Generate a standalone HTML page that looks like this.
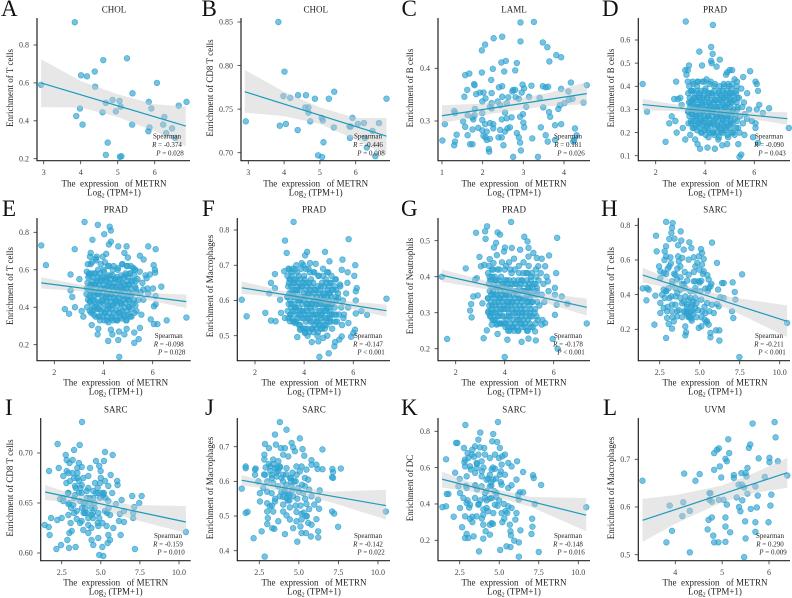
<!DOCTYPE html>
<html lang="en">
<head>
<meta charset="utf-8">
<title>Enrichment vs METRN expression</title>
<style>
html,body{margin:0;padding:0;background:#fff;}
svg{display:block;font-family:"Liberation Serif",serif;}
svg text{white-space:pre;}
</style>
</head>
<body>
<svg id="figure" width="792" height="598" viewBox="0 0 792 598" xmlns="http://www.w3.org/2000/svg"></svg>
<script>
// ---------- data: CHOL ----------
const cholX=[3.84,2.93,4.01,4.17,4.38,4.39,4.61,5.25,5.40,6.06,4.86,5.05,4.68,5.08,4.95,4.59,3.98,3.88,4.05,5.39,5.84,5.91,6.86,6.65,6.26,6.23,6.47,5.86,5.83,6.31,6.55,4.73,4.68,5.06,5.1];
const panelA_y=[.92,.59,.64,.635,.66,.58,.72,.73,.545,.60,.51,.505,.495,.475,.45,.445,.465,.425,.38,.38,.50,.465,.50,.48,.42,.38,.36,.365,.345,.335,.31,.285,.22,.21,.213];
const panelB_y=[.85,.736,.793,.763,.726,.766,.766,.762,.77,.733,.762,.74,.752,.737,.697,.752,.765,.731,.733,.729,.717,.74,.762,.734,.717,.734,.725,.73,.73,.706,.696,.736,.746,.695,.712];
// ---------- data: LAML ----------
const panelC_x=[2.93,3.26,2.48,2.27,2.93,3.48,3.59,2.06,1.98,3.81,3.93,2.46,2.57,2.84,3.64,2.25,2.53,2.80,1.98,1.57,1.67,2.21,1.79,1.80,4.17,4.56,2.98,3.2,3.48,3.55,3.61,3.93,4.11,1.62,2.4,2.48,2.75,2.73,2.80,2.96,3.02,1.93,2.02,1.84,2.22,1.55,1.99,2.07,2.22,2.18,2.37,2.48,2.63,2.81,2.89,3.14,3.4,4.21,4.12,4.01,3.9,4.48,3.86,3.49,3.07,2.59,2.43,2.22,1.81,1.3,1.32,1.63,1.8,1.75,1.77,1.99,2.55,2.47,2.59,2.71,2.92,2.99,3.63,3.66,1.07,1.52,1.57,1.36,1.99,2.18,2.06,2.26,2.26,1.89,1.75,3,3.02,3.43,3.78,3.93,4.27,2.67,2.61,2.43,2.55,1.99,2.1,1.01,1.63,1.32,1.3,1.69,1.75,2.02,2.07,2.1,2.18,2.39,2.47,2.51,2.84,2.89,2.92,2.94,3.22,3.55,3.6,3.78,4.31,4.25,4.23,2.15,2.16,2.75,3.36];
const panelC_y=[.487,.488,.46,.457,.451,.449,.44,.445,.434,.425,.421,.411,.414,.41,.413,.399,.394,.396,.392,.387,.39,.378,.37,.368,.373,.368,.369,.367,.366,.364,.365,.361,.356,.359,.364,.366,.359,.356,.359,.354,.362,.354,.354,.351,.353,.346,.337,.343,.334,.327,.337,.346,.345,.345,.342,.346,.344,.342,.34,.334,.33,.335,.323,.326,.327,.334,.33,.324,.323,.319,.315,.311,.311,.307,.303,.315,.316,.303,.305,.307,.308,.313,.317,.308,.294,.299,.289,.274,.302,.296,.294,.294,.286,.287,.284,.297,.288,.288,.292,.294,.286,.288,.286,.283,.28,.282,.28,.263,.273,.261,.254,.256,.256,.272,.269,.264,.266,.269,.269,.254,.277,.269,.259,.244,.267,.273,.261,.264,.273,.264,.261,.247,.242,.232,.232];
// ---------- data: PRAD, dense core shares METRN values ----------
const pradCoreX=[3.32,3.41,3.44,3.48,3.52,3.55,3.6,3.63,3.68,3.71,3.74,3.78,3.82,3.84,3.88,3.93,3.97,4.0,4.03,4.05,4.08,4.12,4.14,4.18,4.21,4.24,4.28,4.31,4.34,4.38,4.41,4.44,4.48,4.51,4.54,4.58,4.61,4.64,4.68,4.72,4.77,4.81,4.84,4.88,4.91,4.94,4.98,5.01,5.04,5.08,5.11,5.14,5.18,5.22,5.27,5.31,5.34,5.38,5.42,5.47,5.51,5.54,5.58,5.62,5.71,5.79,
3.33,3.37,3.31,3.39,3.35,3.38,3.32,3.36,
3.5,3.54,3.48,3.56,3.52,3.55,3.49,3.53,
3.68,3.72,3.66,3.74,3.7,3.73,3.67,3.71,
3.86,3.9,3.84,3.92,3.88,3.91,3.85,3.89,
4.03,4.07,4.01,4.09,4.05,4.08,4.02,4.06,
4.2,4.24,4.18,4.26,4.22,4.25,4.19,4.23,
4.38,4.42,4.36,4.44,4.4,4.43,4.37,4.41,
4.56,4.6,4.54,4.62,4.58,4.61,4.55,4.59,
4.73,4.77,4.71,4.79,4.75,4.78,4.72,4.76,
4.91,4.95,4.89,4.97,4.93,4.96,4.9,4.94,
5.08,5.12,5.06,5.14,5.1,5.13,5.07,5.11,
5.26,5.3,5.24,5.32,5.28,5.31,5.25,5.29,
3.44,3.46,3.43,3.45,3.47,3.42,
3.61,3.63,3.6,3.62,3.64,3.59,
3.79,3.81,3.78,3.8,3.82,3.77,
3.97,3.99,3.96,3.98,4.0,3.95,
4.14,4.16,4.13,4.15,4.17,4.12,
4.31,4.33,4.3,4.32,4.34,4.29,
4.49,4.51,4.48,4.5,4.52,4.47,
4.67,4.69,4.66,4.68,4.7,4.65,
4.84,4.86,4.83,4.85,4.87,4.82,
5.02,5.04,5.01,5.03,5.05,5.0];
const panelD_coreY=[.29,.33,.25,.38,.3,.22,.35,.27,.4,.31,.24,.36,.28,.2,.33,.25,.42,.38,.3,.22,.35,.27,.18,.41,.32,.24,.37,.29,.2,.4,.34,.26,.31,.23,.17,.38,.28,.2,.35,.25,.4,.31,.22,.36,.27,.18,.4,.33,.24,.37,.29,.2,.34,.26,.38,.3,.22,.35,.27,.39,.31,.24,.33,.28,.37,.3,
.24,.27,.29,.31,.33,.35,.37,.4,
.22,.25,.28,.3,.33,.35,.38,.41,
.21,.24,.27,.3,.32,.35,.38,.42,
.2,.23,.26,.29,.32,.35,.38,.42,
.19,.23,.26,.29,.32,.35,.39,.43,
.2,.23,.26,.29,.31,.34,.37,.42,
.19,.22,.25,.28,.31,.34,.38,.41,
.18,.22,.25,.28,.31,.34,.37,.4,
.2,.23,.26,.29,.32,.35,.38,.41,
.19,.23,.26,.29,.32,.35,.38,.41,
.2,.24,.27,.3,.33,.36,.39,.41,
.22,.25,.28,.31,.33,.35,.37,.4,
.24,.28,.3,.32,.34,.38,
.23,.26,.29,.31,.34,.37,
.22,.25,.28,.31,.34,.37,
.21,.24,.27,.3,.33,.36,
.21,.24,.27,.3,.33,.37,
.2,.24,.27,.3,.33,.36,
.2,.23,.27,.3,.33,.36,
.21,.24,.27,.3,.33,.36,
.21,.24,.27,.31,.34,.37,
.22,.25,.28,.31,.34,.37];
const panelD_x=[1.47,1.65,3.22,4.32,4.25,4.31,3.77,4.6,4.25,4.27,3.88,4.47,3.35,3.3,3.25,3.2,5.83,5.55,5.1,5.0,4.9,4.85,2.83,3.3,3.5,3.7,6.05,6.1,6.15,5.2,5.3,2.75,2.9,3.0,3.05,2.4,2.55,2.65,2.8,2.85,3.1,3.2,3.4,3.6,3.7,3.8,4.1,4.4,4.7,4.9,5.35,5.4,5.47,5.95,6.15,6.6,6.35,7.4,6.1,6.2,5.9,6.05,6.05,5.7,5.6,5.4,5.2];
const panelD_y=[.41,.29,.68,.665,.57,.54,.55,.515,.51,.5,.49,.485,.49,.47,.45,.47,.465,.44,.47,.47,.46,.45,.42,.42,.42,.42,.42,.41,.38,.43,.42,.345,.345,.35,.32,.16,.24,.27,.25,.2,.22,.17,.19,.17,.15,.13,.135,.13,.145,.15,.15,.095,.105,.18,.155,.305,.285,.22,.3,.32,.25,.22,.24,.26,.19,.2,.19];
const panelE_coreY=[.5,.58,.43,.63,.52,.38,.58,.46,.66,.53,.4,.6,.48,.35,.55,.43,.67,.6,.5,.37,.56,.45,.33,.62,.52,.4,.57,.47,.35,.6,.51,.42,.55,.44,.33,.6,.48,.37,.54,.42,.63,.5,.36,.57,.45,.33,.62,.52,.4,.58,.46,.35,.54,.42,.6,.5,.38,.55,.44,.59,.48,.36,.53,.44,.57,.5,
.4,.44,.47,.5,.53,.56,.59,.63,
.37,.41,.45,.48,.51,.54,.58,.64,
.35,.39,.43,.47,.5,.54,.58,.65,
.33,.38,.42,.46,.5,.54,.58,.63,
.33,.37,.42,.46,.5,.54,.59,.64,
.32,.37,.41,.45,.49,.53,.57,.62,
.33,.37,.41,.45,.49,.53,.57,.62,
.33,.37,.41,.45,.49,.52,.56,.61,
.34,.38,.42,.46,.49,.53,.57,.63,
.33,.38,.42,.46,.5,.54,.58,.62,
.35,.39,.43,.47,.5,.54,.58,.62,
.37,.41,.44,.48,.51,.54,.57,.6,
.38,.43,.46,.49,.52,.57,
.36,.4,.44,.48,.52,.56,
.35,.39,.43,.47,.52,.56,
.35,.39,.44,.48,.52,.56,
.35,.39,.43,.47,.51,.55,
.34,.39,.43,.47,.51,.55,
.34,.38,.43,.47,.51,.55,
.35,.39,.43,.47,.51,.55,
.35,.4,.44,.48,.52,.56,
.36,.4,.44,.48,.52,.56];
const panelE_x=[1.47,1.66,3.23,3.77,4.25,4.3,4.03,3.55,4.3,4.22,4.6,4.94,5.82,6.12,2.83,3.48,4.11,4.85,5.48,5.63,3.45,3.72,4.99,6.04,6.09,6.1,2.66,3.02,6.35,6.01,6.12,2.66,2.73,2.84,2.43,2.6,3.11,3.18,3.52,3.79,3.76,4.3,4.19,4.6,4.36,4.63,4.85,5.25,5.25,5.43,4.64,5.48,5.92,6.05,6.19,6.57,7.37,6.05,6.12,5.82,5.62,4.94,5.89,5.75,5.21];
const panelE_y=[.73,.625,.855,.84,.83,.81,.79,.76,.75,.735,.725,.725,.725,.71,.71,.69,.685,.69,.675,.655,.67,.67,.665,.625,.6,.585,.575,.55,.51,.5,.46,.49,.455,.4,.39,.365,.38,.35,.305,.285,.255,.28,.22,.225,.255,.27,.255,.265,.21,.23,.135,.29,.335,.31,.31,.33,.345,.405,.415,.475,.495,.285,.575,.555,.61];
const panelF_coreY=[.61,.66,.56,.68,.62,.54,.65,.58,.7,.63,.55,.67,.6,.53,.64,.57,.7,.67,.61,.52,.65,.58,.5,.69,.62,.55,.66,.59,.52,.68,.63,.56,.6,.54,.5,.67,.59,.53,.64,.56,.69,.61,.52,.66,.58,.5,.68,.62,.55,.65,.59,.52,.63,.56,.66,.6,.54,.62,.56,.64,.58,.53,.6,.56,.62,.58,
.57,.59,.61,.62,.64,.65,.67,.69,
.55,.57,.59,.61,.63,.65,.67,.69,
.54,.56,.58,.6,.62,.64,.66,.68,
.52,.55,.57,.59,.61,.64,.66,.69,
.51,.54,.56,.59,.61,.63,.66,.69,
.51,.54,.56,.58,.6,.63,.65,.68,
.51,.53,.56,.58,.6,.62,.65,.68,
.51,.53,.55,.57,.6,.62,.64,.67,
.52,.54,.56,.58,.6,.62,.65,.67,
.53,.55,.57,.59,.61,.63,.65,.68,
.54,.56,.57,.59,.61,.63,.65,.67,
.54,.56,.58,.6,.61,.63,.64,.66,
.56,.58,.6,.62,.64,.66,
.54,.57,.59,.61,.63,.66,
.53,.56,.58,.6,.63,.65,
.52,.55,.57,.6,.62,.65,
.52,.55,.57,.59,.62,.64,
.52,.54,.57,.59,.61,.64,
.52,.54,.56,.59,.61,.63,
.52,.55,.57,.59,.61,.63,
.53,.55,.57,.59,.62,.64,
.54,.56,.58,.6,.62,.64];
const panelF_x=[1.46,1.66,3.57,3.22,3.29,5.81,4.12,4.04,4.85,5.56,5.03,6.08,6.04,5.77,5.53,5.76,6.14,6.1,6.1,7.35,6.56,6.33,6.1,2.81,2.65,3.19,2.81,2.58,3.02,2.42,2.65,2.84,3.06,3.22,3.42,3.72,3.83,4.03,4.31,4.58,4.78,4.62,5,5.23,5.26,5.43,5.53,5.91,6,6.07,5.8,5.6,3.63,3.4,3.9,4.24,4.47,3.36,3.63,5.46,5.39];
const panelF_y=[.602,.555,.823,.77,.735,.774,.738,.728,.738,.716,.711,.7,.67,.68,.687,.65,.635,.626,.6,.605,.559,.57,.563,.675,.65,.683,.635,.62,.602,.565,.543,.541,.565,.55,.541,.496,.517,.508,.482,.484,.494,.44,.45,.47,.482,.489,.498,.497,.508,.517,.536,.55,.688,.688,.706,.706,.704,.55,.536,.645,.607];
const panelG_coreY=[.34,.39,.3,.42,.35,.28,.39,.32,.46,.37,.29,.42,.34,.27,.38,.31,.47,.42,.35,.27,.39,.32,.25,.44,.37,.29,.41,.33,.26,.45,.38,.3,.36,.28,.25,.43,.34,.27,.39,.3,.44,.36,.26,.41,.33,.25,.43,.37,.29,.4,.33,.26,.38,.3,.42,.36,.28,.39,.32,.41,.35,.28,.38,.33,.4,.36,
.3,.32,.34,.36,.38,.4,.41,.43,
.28,.3,.32,.34,.36,.38,.4,.42,
.27,.29,.31,.33,.35,.37,.39,.42,
.27,.29,.31,.33,.35,.37,.4,.44,
.26,.28,.31,.33,.35,.37,.39,.43,
.25,.27,.3,.32,.34,.36,.39,.42,
.25,.27,.3,.32,.34,.36,.39,.42,
.25,.28,.3,.32,.34,.37,.39,.41,
.26,.28,.3,.32,.34,.36,.39,.41,
.25,.28,.3,.33,.35,.37,.39,.41,
.26,.29,.31,.33,.35,.37,.39,.41,
.27,.29,.31,.33,.35,.37,.38,.4,
.29,.31,.33,.35,.37,.39,
.28,.3,.33,.35,.37,.4,
.27,.3,.32,.34,.36,.39,
.27,.29,.32,.34,.36,.38,
.26,.29,.31,.33,.35,.38,
.26,.28,.31,.33,.35,.38,
.26,.29,.31,.33,.35,.38,
.27,.29,.31,.33,.36,.38,
.27,.29,.31,.34,.36,.38,
.27,.3,.32,.34,.36,.38];
const panelG_x=[1.44,1.65,4,2.83,3.28,3.2,3.22,4.26,3.71,3.81,4.8,4.93,6.14,3.65,3.56,4.01,4.29,4.97,4.63,5.17,4.97,5.81,5.51,5.31,2.97,3.39,3.17,3.03,2.41,3.54,5.37,5.65,6.1,2.79,2.86,5.76,6.05,6.05,6.33,6.56,7.35,2.72,2.9,2.63,2.59,2.65,3.09,3.33,3.4,3.27,3.14,3.71,4.11,4.69,4.97,5.27,5.24,5.96,6.16,6.05,6.12,5.51,5.65,3.47,3.67];
const panelG_y=[.4,.227,.177,.522,.54,.526,.505,.552,.523,.517,.511,.498,.508,.494,.481,.481,.48,.48,.475,.466,.456,.459,.45,.452,.455,.449,.433,.429,.423,.438,.429,.429,.41,.392,.396,.387,.369,.35,.345,.325,.27,.345,.348,.324,.306,.287,.326,.304,.29,.251,.229,.241,.225,.219,.228,.223,.248,.227,.2,.294,.322,.267,.271,.267,.267];
// ---------- data: SARC ----------
const sarcCoreX=[2.8,3.0,3.2,3.4,3.6,3.8,4.0,4.2,4.4,4.6,4.8,5.0,5.2,5.4,2.9,3.1,3.3,3.5,3.7,3.9,4.1,4.3,4.5,4.7,4.9,5.1,5.3,5.5,3.0,3.3,3.6,3.9,4.2,4.5,4.8,5.1,4.0,4.3,4.6,4.4];
const panelH_coreY=[.6,.55,.58,.52,.55,.5,.46,.33,.3,.29,.35,.47,.52,.24,.42,.38,.46,.39,.31,.35,.3,.27,.33,.42,.31,.27,.33,.42,.33,.27,.41,.27,.29,.25,.27,.48,.36,.37,.36,.27];
const panelI_coreY=[.67,.69,.68,.665,.66,.645,.65,.635,.645,.65,.665,.675,.66,.64,.66,.645,.655,.675,.665,.65,.64,.655,.635,.66,.635,.63,.655,.645,.65,.64,.69,.64,.665,.64,.63,.66,.645,.65,.645,.625];
const panelJ_coreY=[.62,.6,.63,.65,.625,.64,.6,.59,.56,.625,.6,.57,.59,.55,.64,.65,.61,.55,.63,.61,.57,.545,.61,.6,.55,.53,.51,.5,.57,.53,.64,.57,.62,.6,.53,.47,.555,.565,.575,.545];
const panelK_coreY=[.63,.68,.59,.66,.48,.42,.6,.47,.43,.6,.54,.42,.3,.36,.5,.38,.33,.5,.4,.58,.46,.36,.52,.47,.39,.58,.4,.35,.42,.3,.62,.32,.42,.5,.44,.52,.37,.54,.29,.56];
const panelH_x=[1.44,1.71,1.81,1.67,2.17,2.27,2.31,2.9,3.31,3.27,3.23,3.1,3.42,3.81,3.85,3.65,4,4.35,4.48,5.77,5.08,2.9,2.81,2.9,3.17,3.65,3.9,4.31,4.63,4.94,5.25,5.15,6.08,2.46,2.54,3.1,3.69,3.79,4.85,5.15,4.73,4.98,4.63,4.06,7.65,5.48,2.9,2.75,2.54,3.48,3.58,4.21,4.94,4.63,5.56,5.73,6.4,6.5,7.06,7.19,7.23,7.02,7.1,6.29,6.5,6.15,5.67,5.56,3.06,2.9,2.75,2.23,2.65,2.81,3.23,3.48,3.79,4.1,4.42,4.73,5.04,5.35,3.79,4.1,4.42,4.73,5.1,5.46,5.77,6.08,6.19,2.54,2.75,2.54,2.96,3.27,3.48,3.27,3.58,2.96,3.06,3.27,3.38,3.58,2.9,4.1,4.15,4.1,4.21,4.52,4.21,4.52,4.31,4.48,4.73,5.15,5.35,4.94,5.1,5.31,5.46,5.56,5.67,5.67,6.02,6.23,6.23,7.48,10.46,5.88,5.6,4,4.73,4.31,5.25,3.27,3.9];
const panelH_y=[.436,.438,.429,.367,.227,.74,.65,.82,.813,.785,.756,.721,.723,.765,.712,.685,.66,.702,.669,.7,.663,.679,.65,.621,.615,.621,.612,.602,.615,.621,.606,.64,.583,.563,.535,.563,.592,.563,.583,.573,.563,.544,.531,.531,.517,.512,.519,.525,.496,.515,.487,.481,.477,.477,.487,.462,.467,.467,.471,.415,.371,.304,.265,.385,.381,.429,.448,.438,.438,.419,.429,.394,.4,.381,.39,.438,.429,.438,.419,.438,.419,.435,.381,.39,.381,.381,.371,.352,.342,.346,.333,.352,.323,.294,.304,.342,.342,.304,.304,.265,.231,.204,.246,.275,.15,.217,.183,.165,.342,.342,.304,.304,.275,.262,.323,.304,.294,.208,.217,.256,.246,.227,.179,.154,.194,.194,.135,.04,.237,.294,.304,.304,.477,.515,.535,.477,.462];
const panelI_x=[1.41,1.67,1.73,1.69,1.82,2.24,2.31,2.16,2.46,2.22,2.5,2.6,2.39,2.76,2.82,3.29,3.2,3.65,3.8,2.82,2.93,2.6,3.03,3.29,3.5,3.78,3.5,3.88,3.61,3.35,3.78,4.31,4.69,5.2,5.27,5.76,4.9,4.99,5.63,4.2,4.63,4.95,5.27,5.48,6.05,6.07,5.73,2.93,3.35,3.78,4.1,4.52,4.84,5.16,2.6,2.93,3.24,3.67,4.1,4.52,4.95,5.48,5.97,6.33,7.01,7.61,7.46,7.14,7.07,7.07,6.48,6.22,6.16,6.48,3.46,3.99,4.41,4.84,5.27,5.59,2.93,3.46,3.07,3.78,4.2,4.84,5.37,5.8,2.99,3.14,3.88,4.2,4.41,4.52,4.84,5.48,5.59,6.27,2.86,2.97,3.39,5.1,5.44,4.9,5.16,7.18,10.44,3.67];
const panelI_y=[.628,.626,.618,.682,.635,.709,.685,.604,.608,.633,.635,.655,.654,.698,.693,.703,.693,.708,.731,.682,.68,.677,.672,.675,.685,.686,.68,.675,.672,.667,.668,.685,.692,.692,.701,.698,.687,.682,.678,.677,.67,.67,.672,.667,.672,.668,.66,.66,.658,.66,.662,.662,.66,.658,.652,.649,.648,.652,.655,.655,.655,.652,.649,.653,.657,.657,.65,.646,.64,.635,.642,.639,.632,.631,.642,.64,.638,.64,.642,.638,.638,.634,.63,.632,.628,.627,.627,.625,.62,.622,.623,.62,.613,.608,.615,.618,.613,.618,.613,.605,.606,.606,.61,.598,.597,.604,.621,.63];
const panelJ_x=[1.39,1.64,1.64,1.64,1.76,2.14,2.23,2.27,2.44,2.23,2.65,2.84,2.86,2.82,3.11,3.49,3.8,4.22,3.55,3.87,4.12,4.54,5.06,4.64,4.75,5.23,5.34,6.49,5.8,5.8,6.11,6.18,6.49,7.12,7.16,7.65,7.1,7.16,2.82,3.38,3.7,4.01,4.33,3.17,3.49,3.8,4.22,4.85,5.17,5.48,2.86,3.28,3.59,4.01,4.43,4.85,5.06,5.38,5.59,2.75,3.38,3.7,4.12,4.54,4.96,5.38,5.65,6.32,2.54,3.28,3.8,4.22,4.64,5.27,5.8,6.22,2.54,3,3.17,3.49,4.01,4.43,5.48,5.97,6.28,5.65,3,3.38,4.01,4.85,5.17,5.48,7.1,7.23,10.5,3.04,3,3.7,4.22,4.43,4.85,5.17,5.59,5.8,6.11,3.32,3.45,4.12,4.64,5.17,5.44,5.76,6.22,6.22,4.9,7.48];
const panelJ_y=[.579,.643,.638,.509,.512,.436,.634,.637,.6,.619,.456,.383,.708,.677,.696,.735,.771,.749,.706,.696,.696,.711,.724,.698,.687,.693,.674,.692,.661,.648,.648,.636,.635,.636,.627,.637,.612,.61,.663,.663,.658,.677,.672,.643,.638,.643,.638,.643,.643,.634,.619,.619,.614,.619,.61,.619,.629,.61,.605,.581,.595,.586,.581,.586,.581,.586,.576,.574,.566,.566,.557,.552,.557,.566,.557,.547,.542,.537,.528,.542,.533,.525,.535,.533,.521,.52,.513,.513,.513,.512,.506,.499,.513,.507,.513,.494,.477,.485,.502,.49,.485,.49,.48,.475,.491,.465,.463,.448,.465,.451,.451,.441,.456,.438,.426,.469];
const panelK_x=[1.41,1.64,1.64,1.68,1.79,2.12,2.21,2.27,2.35,2.77,2.86,2.5,2.42,2.52,2.65,2.94,2.84,3.05,3.38,3.8,4.62,4.92,3.68,4.56,4.87,5.04,3.47,3.78,3.3,4.05,3.26,3.68,4.1,4.73,5.36,5.19,2.84,3.05,3.57,3.89,4.41,4.98,5.57,5.78,6.13,2.84,3.15,3.57,4.52,4.73,5.15,6.51,2.94,3.47,3.89,4.2,4.62,5.04,5.36,6.09,7.14,7.18,7.65,5.78,5.57,2.94,3.47,3.89,4.41,5.15,4.83,6.3,6.51,6.2,6.24,7.25,10.5,2.73,2.94,3.15,3.47,3.68,4.1,4.52,4.2,4.73,5.57,5.78,2.52,2.84,3.15,3.57,3.99,4.62,5.15,6.09,5.32,4.52,3.99,4.41,5.67,6.02,7.08,7.1,7.04,6.34,5.71,5.74,4.14,4.41,3.99,5.95,6.24,5.46,5.71,5.06,3.72,6.24,7.5];
const panelK_y=[.383,.387,.646,.455,.455,.33,.572,.736,.736,.708,.835,.538,.497,.46,.272,.235,.213,.213,.222,.793,.785,.851,.754,.745,.741,.708,.717,.712,.699,.708,.672,.672,.672,.672,.672,.662,.644,.653,.626,.635,.653,.653,.626,.607,.635,.607,.607,.598,.589,.594,.617,.576,.552,.571,.552,.534,.534,.561,.561,.534,.558,.543,.505,.503,.488,.488,.503,.497,.497,.506,.46,.464,.464,.451,.424,.4,.382,.433,.405,.396,.433,.396,.433,.433,.378,.396,.387,.378,.378,.332,.319,.332,.341,.35,.35,.35,.319,.295,.286,.286,.286,.314,.319,.275,.235,.255,.25,.227,.25,.231,.209,.198,.189,.167,.163,.147,.139,.11,.136];
// ---------- data: UVM ----------
const panelL_x=[3.3,3.88,3.93,3.81,4.31,4.15,4.17,4.19,4.31,4.43,4.52,4.69,4.71,4.73,4.75,4.73,4.78,4.78,4.81,4.83,4.83,4.89,4.93,4.83,4.92,4.93,4.95,4.98,5.03,5.07,5.07,5.07,5.1,5.07,5.1,5.15,5.13,5.17,5.25,5.25,5.31,5.36,5.39,5.35,5.41,5.43,5.42,5.47,5.47,5.5,5.52,5.54,5.49,5.5,5.54,5.57,5.6,5.61,5.65,5.71,5.71,5.71,5.74,5.76,5.78,6.01,5.91,5.99,6.03,6.05,6.01,6.12,6.14,6.19,6.39];
const panelL_y=[.655,.603,.55,.526,.505,.581,.61,.67,.592,.655,.669,.553,.573,.629,.629,.615,.611,.578,.54,.678,.713,.72,.723,.526,.526,.615,.685,.662,.615,.578,.559,.527,.605,.701,.696,.713,.742,.547,.661,.667,.62,.6,.591,.647,.671,.614,.647,.641,.495,.671,.664,.682,.57,.534,.628,.724,.731,.596,.775,.643,.568,.548,.599,.624,.702,.694,.663,.568,.603,.626,.703,.778,.746,.696,.666];
// ---------- fitted lines (endpoints) ----------
const panelA_fitX=[2.93,6.84],panelA_fitY=[.60,.372];
const panelB_fitX=[2.9,6.86],panelB_fitY=[.77,.719];
const panelC_fitX=[1,4.56],panelC_fitY=[.31,.352];
const panelD_fitX=[1.47,7.34],panelD_fitY=[.321,.26];
const panelE_fitX=[1.47,7.37],panelE_fitY=[.53,.43];
const panelF_fitX=[1.46,7.35],panelF_fitY=[.636,.571];
const panelG_fitX=[1.44,7.35],panelG_fitY=[.404,.315];
const panelH_fitX=[1.44,10.46],panelH_fitY=[.513,.246];
const panelI_fitX=[1.44,10.44],panelI_fitY=[.661,.631];
const panelJ_fitX=[1.39,10.5],panelJ_fitY=[.603,.53];
const panelK_fitX=[1.39,10.5],panelK_fitY=[.536,.338];
const panelL_fitX=[3.3,6.39],panelL_fitY=[.572,.672];
// ---------- confidence bands ----------
const panelA_ciX=[2.93,4,5,6,6.84],panelA_ciHi=[.725,.61,.54,.487,.475],panelA_ciLo=[.472,.47,.42,.345,.265];
const panelB_ciX=[2.9,4,5,6,6.86],panelB_ciHi=[.795,.77,.752,.74,.74],panelB_ciLo=[.746,.742,.733,.715,.697];
const panelC_ciX=[1,2,2.75,3.6,4.56],panelC_ciHi=[.33,.333,.341,.353,.374],panelC_ciLo=[.296,.311,.32,.328,.332];
const panelD_ciX=[1.47,3,4.2,5.5,7.34],panelD_ciHi=[.345,.318,.302,.292,.288],panelD_ciLo=[.297,.292,.284,.266,.233];
const panelE_ciX=[1.47,3,4.2,5.5,7.37],panelE_ciHi=[.56,.522,.497,.478,.467],panelE_ciLo=[.5,.486,.471,.446,.395];
const panelF_ciX=[1.46,3,4.2,5.5,7.35],panelF_ciHi=[.654,.629,.612,.6,.588],panelF_ciLo=[.619,.609,.6,.582,.554];
const panelG_ciX=[1.44,3,4.2,5.5,7.35],panelG_ciHi=[.42,.393,.371,.355,.339],panelG_ciLo=[.386,.368,.353,.331,.292];
const panelH_ciX=[1.44,3,4.5,7,10.46],panelH_ciHi=[.555,.495,.44,.385,.338],panelH_ciLo=[.47,.44,.404,.31,.155];
const panelI_ciX=[1.44,3,4.5,7,10.44],panelI_ciHi=[.668,.66,.655,.648,.647],panelI_ciLo=[.653,.651,.646,.634,.62];
const panelJ_ciX=[1.39,3,4.5,7,10.5],panelJ_ciHi=[.618,.6,.587,.57,.576],panelJ_ciLo=[.588,.579,.568,.54,.49];
const panelK_ciX=[1.39,3,4.5,7,10.5],panelK_ciHi=[.577,.525,.487,.438,.433],panelK_ciLo=[.49,.472,.446,.384,.25];
const panelL_ciX=[3.3,4,5,5.7,6.39],panelL_ciHi=[.617,.625,.645,.672,.703],panelL_ciLo=[.527,.565,.61,.63,.64];
// ---------- tick labels ----------
const ticksX123=["3","4","5","6"];
const ticksXLaml=["1","2","3","4"];
const ticksXPrad=["2","4","6"];
const ticksXSarc=["2.5","5.0","7.5","10.0"];
const ticksXUvm=["4","5","6"];
const ticksYA=["0.2","0.4","0.6","0.8"];
const ticksYB=["0.70","0.75","0.80","0.85"];
const ticksYC=["0.3","0.4"];
const ticksYD=["0.1","0.2","0.3","0.4","0.5","0.6"];
const ticksYF=["0.5","0.6","0.7","0.8"];
const ticksYG=["0.2","0.3","0.4","0.5"];
const ticksYI=["0.60","0.65","0.70"];
const ticksYJ=["0.4","0.5","0.6","0.7"];
const ticksYL=["0.5","0.6","0.7"];

// ---------- panels ----------
const panels=[
{id:"A",cancer:"CHOL",ylabel:"Enrichment of T cells",r:"-0.374",p:"= 0.028",x:cholX,y:panelA_y,fx:panelA_fitX,fy:panelA_fitY,cx:panelA_ciX,hi:panelA_ciHi,lo:panelA_ciLo,tx:ticksX123,ty:ticksYA},
{id:"B",cancer:"CHOL",ylabel:"Enrichment of CD8 T cells",r:"-0.446",p:"= 0.008",x:cholX,y:panelB_y,fx:panelB_fitX,fy:panelB_fitY,cx:panelB_ciX,hi:panelB_ciHi,lo:panelB_ciLo,tx:ticksX123,ty:ticksYB},
{id:"C",cancer:"LAML",ylabel:"Enrichment of B cells",r:"0.181",p:"= 0.026",x:panelC_x,y:panelC_y,fx:panelC_fitX,fy:panelC_fitY,cx:panelC_ciX,hi:panelC_ciHi,lo:panelC_ciLo,tx:ticksXLaml,ty:ticksYC},
{id:"D",cancer:"PRAD",ylabel:"Enrichment of B cells",r:"-0.090",p:"= 0.043",x:pradCoreX.concat(panelD_x),y:panelD_coreY.concat(panelD_y),fx:panelD_fitX,fy:panelD_fitY,cx:panelD_ciX,hi:panelD_ciHi,lo:panelD_ciLo,tx:ticksXPrad,ty:ticksYD},
{id:"E",cancer:"PRAD",ylabel:"Enrichment of T cells",r:"-0.098",p:"= 0.028",x:pradCoreX.concat(panelE_x),y:panelE_coreY.concat(panelE_y),fx:panelE_fitX,fy:panelE_fitY,cx:panelE_ciX,hi:panelE_ciHi,lo:panelE_ciLo,tx:ticksXPrad,ty:ticksYA},
{id:"F",cancer:"PRAD",ylabel:"Enrichment of Macrophages",r:"-0.147",p:"< 0.001",x:pradCoreX.concat(panelF_x),y:panelF_coreY.concat(panelF_y),fx:panelF_fitX,fy:panelF_fitY,cx:panelF_ciX,hi:panelF_ciHi,lo:panelF_ciLo,tx:ticksXPrad,ty:ticksYF},
{id:"G",cancer:"PRAD",ylabel:"Enrichment of Neutrophils",r:"-0.178",p:"< 0.001",x:pradCoreX.concat(panelG_x),y:panelG_coreY.concat(panelG_y),fx:panelG_fitX,fy:panelG_fitY,cx:panelG_ciX,hi:panelG_ciHi,lo:panelG_ciLo,tx:ticksXPrad,ty:ticksYG},
{id:"H",cancer:"SARC",ylabel:"Enrichment of T cells",r:"-0.211",p:"< 0.001",x:sarcCoreX.concat(panelH_x),y:panelH_coreY.concat(panelH_y),fx:panelH_fitX,fy:panelH_fitY,cx:panelH_ciX,hi:panelH_ciHi,lo:panelH_ciLo,tx:ticksXSarc,ty:ticksYA},
{id:"I",cancer:"SARC",ylabel:"Enrichment of CD8 T cells",r:"-0.159",p:"= 0.010",x:sarcCoreX.concat(panelI_x),y:panelI_coreY.concat(panelI_y),fx:panelI_fitX,fy:panelI_fitY,cx:panelI_ciX,hi:panelI_ciHi,lo:panelI_ciLo,tx:ticksXSarc,ty:ticksYI},
{id:"J",cancer:"SARC",ylabel:"Enrichment of Macrophages",r:"-0.142",p:"= 0.022",x:sarcCoreX.concat(panelJ_x),y:panelJ_coreY.concat(panelJ_y),fx:panelJ_fitX,fy:panelJ_fitY,cx:panelJ_ciX,hi:panelJ_ciHi,lo:panelJ_ciLo,tx:ticksXSarc,ty:ticksYJ},
{id:"K",cancer:"SARC",ylabel:"Enrichment of DC",r:"-0.148",p:"= 0.016",x:sarcCoreX.concat(panelK_x),y:panelK_coreY.concat(panelK_y),fx:panelK_fitX,fy:panelK_fitY,cx:panelK_ciX,hi:panelK_ciHi,lo:panelK_ciLo,tx:ticksXSarc,ty:ticksYA},
{id:"L",cancer:"UVM",ylabel:"Enrichment of Macrophages",r:"0.290",p:"= 0.009",x:panelL_x,y:panelL_y,fx:panelL_fitX,fy:panelL_fitY,cx:panelL_ciX,hi:panelL_ciHi,lo:panelL_ciLo,tx:ticksXUvm,ty:ticksYL}
];

// ---------- layout (pixel frames, separate from data) ----------
const layout={
A:{l:37,r:190,t:18,b:160.7,xp:[43.7,154.7],yp:[158.7,45],lx:1,ly:16,cx:114,yl:10,ym:88,st:167},
B:{l:241,r:390,t:18,b:160.7,xp:[248.3,355.7],yp:[152.7,22],lx:201.5,ly:16,cx:315.7,yl:210,ym:88,st:368},
C:{l:438,r:590,t:18,b:160.7,xp:[442,564],yp:[121,68.3],lx:401.5,ly:16,cx:514,yl:410,ym:88,st:568},
D:{l:638.3,r:790,t:18,b:160.7,xp:[655.7,754.3],yp:[155.7,40],lx:602,ly:16,cx:715,yl:611,ym:88,st:769},
E:{l:37,r:190.7,t:218,b:360.7,xp:[54.3,152.7],yp:[344.7,232.3],lx:2,ly:216,cx:115.7,yl:10,ym:286,st:168.7},
F:{l:237.3,r:390,t:218,b:360.7,xp:[255,353.3],yp:[335.7,230],lx:202,ly:216,cx:314,yl:210,ym:286,st:368},
G:{l:438,r:590,t:218,b:360.7,xp:[455.7,553.7],yp:[348.7,240.7],lx:401,ly:216,cx:514,yl:410,ym:286,st:568},
H:{l:638.3,r:790,t:218,b:360.7,xp:[659.7,779.7],yp:[329.3,225.3],lx:601,ly:216,cx:715,yl:611,ym:286,st:769},
I:{l:40.7,r:190.7,t:418,b:560.7,xp:[61.7,179],yp:[553,453],lx:5,ly:415,cx:115.7,yl:10,ym:488,st:168},
J:{l:237.3,r:390,t:418,b:560.7,xp:[259.3,378],yp:[550.7,446.7],lx:205,ly:415,cx:314,yl:210,ym:488,st:368},
K:{l:438,r:590,t:418,b:560.7,xp:[459.7,578.3],yp:[540.3,431.3],lx:401,ly:415,cx:514,yl:410,ym:488,st:568},
L:{l:638.3,r:790,t:418,b:560.7,xp:[675.3,769],yp:[554.7,459.3],lx:603,ly:415,cx:715,yl:611,ym:488,st:770}
};
const rowOffsets={18:{title:12.7,xt:186.7,log:195.5,s:[138.5,147,155.5]},218:{title:212.7,xt:385.3,log:394.7,s:[338,346.3,354.7]},418:{title:412.7,xt:585.7,log:594.7,s:[538,546.3,554.7]}};

const NS="http://www.w3.org/2000/svg";
const root=document.getElementById("figure");
function make(parent,tag,attrs,text){
  const el=document.createElementNS(NS,tag);
  for(const k in attrs){el.setAttribute(k,attrs[k]);}
  if(text!==undefined){el.textContent=text;}
  parent.appendChild(el);
  return el;
}
function linear(d0,d1,r0,r1){return function(v){return r0+(v-d0)*(r1-r0)/(d1-d0);};}

panels.forEach(function(p){
  const f=layout[p.id];
  const row=rowOffsets[f.t];
  const xNum=p.tx.map(Number),yNum=p.ty.map(Number);
  const X=linear(xNum[0],xNum[xNum.length-1],f.xp[0],f.xp[1]);
  const Y=linear(yNum[0],yNum[yNum.length-1],f.yp[0],f.yp[1]);

  const g=make(root,"g",{});
  
  

  const letter=make(g,"text",{x:f.lx,y:f.ly,"font-size":23,fill:"#111"},p.id);
  
  

  const title=make(g,"text",{x:f.cx,y:row.title,"font-size":9,"text-anchor":"middle",fill:"#222"},p.cancer);
  
  

  const dots=make(g,"g",{});
  
  
  const n=Math.min(p.x.length,p.y.length);
  for(let i=0;i<n;i++){
    const c=make(dots,"circle",{cx:X(p.x[i]).toFixed(2),cy:Y(p.y[i]).toFixed(2),r:2.85,fill:"#2ca2d0","fill-opacity":.65,stroke:"#2ca2d0","stroke-opacity":.78,"stroke-width":.7});
    
    
  }

  let d="";
  p.cx.forEach(function(v,i){d+=(i?"L":"M")+X(v).toFixed(2)+" "+Y(p.hi[i]).toFixed(2);});
  for(let i=p.cx.length-1;i>=0;i--){d+="L"+X(p.cx[i]).toFixed(2)+" "+Y(p.lo[i]).toFixed(2);}
  const band=make(g,"path",{d:d+"Z",fill:"#c9c9c9","fill-opacity":.45});
  
  

  const fit=make(g,"line",{x1:X(p.fx[0]),y1:Y(p.fy[0]),x2:X(p.fx[1]),y2:Y(p.fy[1]),stroke:"#1a9abf","stroke-width":1.2});
  
  

  const axisY=make(g,"line",{x1:f.l,y1:f.t,x2:f.l,y2:f.b+.6,stroke:"#222","stroke-width":1.2});
  
  
  const axisX=make(g,"line",{x1:f.l,y1:f.b,x2:f.r,y2:f.b,stroke:"#222","stroke-width":1.2});
  
  

  p.tx.forEach(function(lbl,i){
    const px=X(xNum[i]);
    const t=make(g,"line",{x1:px,y1:f.b,x2:px,y2:f.b+3.5,stroke:"#333","stroke-width":.8});
    
    
    const l=make(g,"text",{x:px,y:f.b+14.3,"font-size":8,"text-anchor":"middle",fill:"#444"},lbl);
    
    
  });
  p.ty.forEach(function(lbl,i){
    const py=Y(yNum[i]);
    const t=make(g,"line",{x1:f.l-3.5,y1:py,x2:f.l,y2:py,stroke:"#333","stroke-width":.8});
    
    
    const l=make(g,"text",{x:f.l-8,y:py+2.7,"font-size":8,"text-anchor":"end",fill:"#444"},lbl);
    
    
  });

  const xt=make(g,"text",{x:f.cx,y:row.xt,"font-size":9,"text-anchor":"middle",fill:"#222"},"The  expression   of METRN");
  
  

  const lg=make(g,"text",{x:f.cx,y:row.log,"font-size":9,"text-anchor":"middle",fill:"#222"},"Log");
  
  
  make(lg,"tspan",{dy:1.8,"font-size":6},"2");
  make(lg,"tspan",{dy:-1.8}," (TPM+1)");

  const yt=make(g,"text",{transform:"translate("+(f.yl+3)+" "+f.ym+") rotate(-90)","font-size":9,"text-anchor":"middle",fill:"#222"},p.ylabel);
  
  

  const s1=make(g,"text",{x:f.st,y:row.s[0],"font-size":7,"text-anchor":"middle",fill:"#222"},"Spearman");
  
  
  const s2=make(g,"text",{x:f.st,y:row.s[1],"font-size":7,"text-anchor":"middle",fill:"#222"});
  
  
  make(s2,"tspan",{"font-style":"italic"},"R");
  make(s2,"tspan",{}," = "+p.r);
  const s3=make(g,"text",{x:f.st+3,y:row.s[2],"font-size":7,"text-anchor":"middle",fill:"#222"});
  
  
  make(s3,"tspan",{"font-style":"italic"},"P");
  make(s3,"tspan",{}," "+p.p);
});
</script>
</body>
</html>
